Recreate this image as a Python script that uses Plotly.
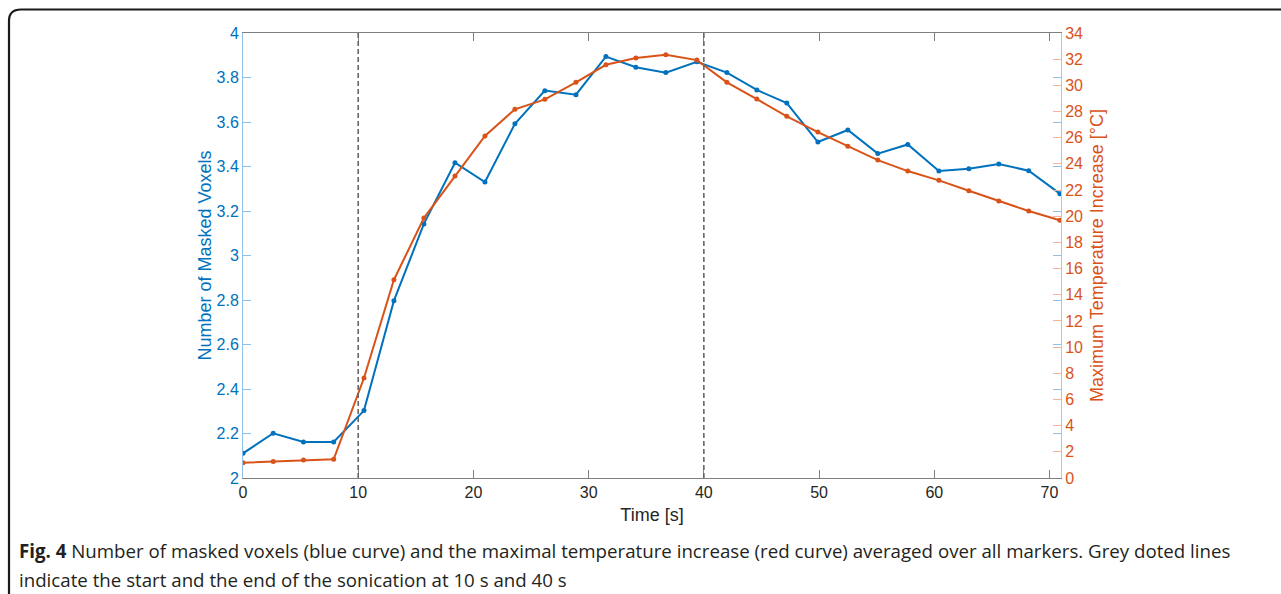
import plotly.graph_objects as go

# ---- data ----
time_s = [0, 2.62, 5.25, 7.87, 10.5, 13.1, 15.7, 18.4, 21.0, 23.6, 26.2, 28.9, 31.5, 34.1,
          36.7, 39.4, 42.0, 44.6, 47.2, 49.9, 52.5, 55.1, 57.7, 60.4, 63.0, 65.6, 68.2, 70.9]
masked_voxels = [2.111, 2.201, 2.162, 2.162, 2.303, 2.797, 3.142, 3.417, 3.330, 3.592, 3.741,
                 3.723, 3.894, 3.846, 3.822, 3.871, 3.822, 3.744, 3.685, 3.510, 3.564, 3.458,
                 3.499, 3.380, 3.390, 3.411, 3.381, 3.278]
max_temp_increase = [1.17, 1.27, 1.37, 1.43, 7.64, 15.15, 19.86, 23.07, 26.13, 28.17, 28.93,
                     30.23, 31.57, 32.09, 32.34, 31.93, 30.23, 28.95, 27.63, 26.43, 25.34, 24.29,
                     23.45, 22.74, 21.95, 21.16, 20.40, 19.69]
sonication_times = [10, 40]

x_ticks = [0, 10, 20, 30, 40, 50, 60, 70]
y_left_ticks = [2, 2.2, 2.4, 2.6, 2.8, 3, 3.2, 3.4, 3.6, 3.8, 4]
y_left_labels = ["2", "2.2", "2.4", "2.6", "2.8", "3", "3.2", "3.4", "3.6", "3.8", "4"]
y_right_ticks = list(range(0, 35, 2))

caption_line1 = ("<b>Fig. 4</b> Number of masked voxels (blue curve) and the maximal temperature "
                 "increase (red curve) averaged over all markers. Grey doted lines")
caption_line2 = "indicate the start and the end of the sonication at 10 s and 40 s"

BLUE = "#0072BD"
ORANGE = "#D95319"
BLUE_AX = "#8fc1e8"
ORANGE_AX = "#f4b49a"
GREY_AX = "#808080"

fig = go.Figure()
fig.add_trace(go.Scatter(x=time_s, y=masked_voxels, mode="lines+markers",
                         line=dict(color=BLUE, width=2), marker=dict(color=BLUE, size=5),
                         yaxis="y", showlegend=False))
fig.add_trace(go.Scatter(x=time_s, y=max_temp_increase, mode="lines+markers",
                         line=dict(color=ORANGE, width=2), marker=dict(color=ORANGE, size=5),
                         yaxis="y2", showlegend=False))

for t in sonication_times:
    fig.add_shape(type="line", xref="x", yref="paper", x0=t, x1=t, y0=0, y1=1,
                  line=dict(color="#666666", width=1.6, dash="5px,3px"))

W, H = 1281, 594
L, R, T, B = 243, 220, 33, 116
pw, ph = W - L - R, H - T - B


def px(xp):
    return (xp - L) / pw


def py(yp):
    return (H - B - yp) / ph


# rounded figure border (extends past right/bottom edges)
border = (f"M {px(9)},{py(605)} L {px(9)},{py(21)} Q {px(9)},{py(9.5)} {px(21)},{py(9.5)} "
          f"L {px(1300)},{py(9.5)}")
fig.add_shape(type="path", xref="paper", yref="paper", path=border,
              line=dict(color="#1a1a1a", width=2.2))

fig.add_annotation(text=caption_line1, xref="paper", yref="paper", x=px(17), y=py(550),
                   xanchor="left", yanchor="middle", showarrow=False,
                   font=dict(family="Open Sans", size=18.7, color="#231f20"))
fig.add_annotation(text=caption_line2, xref="paper", yref="paper", x=px(17), y=py(579),
                   xanchor="left", yanchor="middle", showarrow=False,
                   font=dict(family="Open Sans", size=18.7, color="#231f20"))

fig.update_layout(
    width=W, height=H,
    margin=dict(l=L, r=R, t=T, b=B, pad=0),
    paper_bgcolor="white", plot_bgcolor="white",
    font=dict(family="Liberation Sans, Arial", size=16),
    xaxis=dict(range=[0, 71], tickvals=x_ticks, ticks="inside", ticklen=8, tickcolor=GREY_AX,
               showline=True, linecolor=GREY_AX, linewidth=1, mirror="ticks",
               showgrid=False, zeroline=False,
               tickfont=dict(color="#262626", size=16),
               title=dict(text="Time [s]", font=dict(color="#262626", size=18), standoff=8)),
    yaxis=dict(range=[2, 4], tickvals=y_left_ticks, ticktext=y_left_labels, ticks="inside",
               ticklen=8, tickcolor=BLUE_AX, showline=True, linecolor=BLUE_AX, linewidth=1,
               mirror="ticks", showgrid=False, zeroline=False,
               tickfont=dict(color=BLUE, size=16),
               title=dict(text="Number of Masked Voxels", font=dict(color=BLUE, size=18),
                          standoff=0)),
    yaxis2=dict(range=[0, 34], tickvals=y_right_ticks, overlaying="y", side="right",
                ticks="inside", ticklen=8, tickcolor=ORANGE_AX, showline=True,
                linecolor=ORANGE_AX, linewidth=1, showgrid=False, zeroline=False,
                tickfont=dict(color=ORANGE, size=16),
                title=dict(text="Maximum Temperature Increase [°C]",
                           font=dict(color=ORANGE, size=18), standoff=8)),
)

fig.write_html("out.html", config={"displayModeBar": False},
               post_script="document.body.style.margin='0px';")
